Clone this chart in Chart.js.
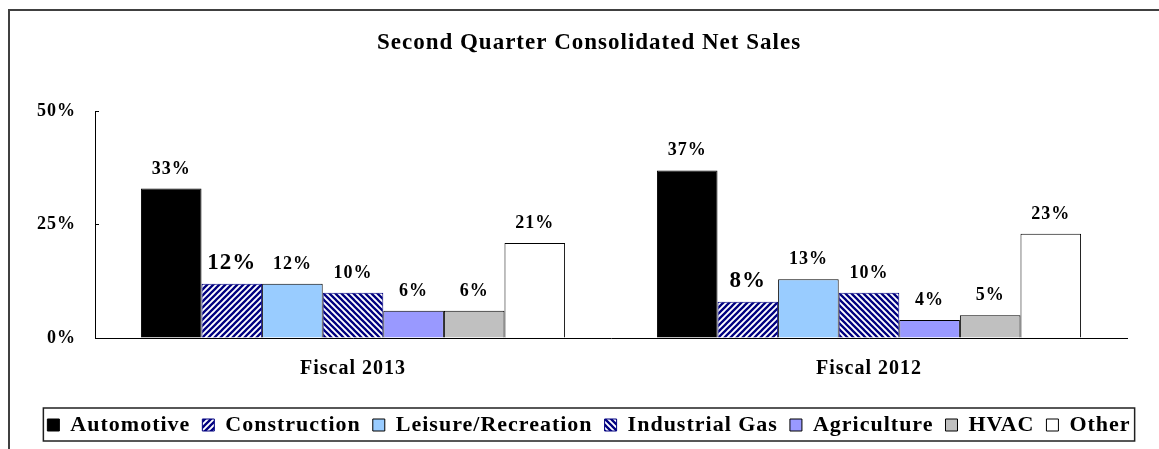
<!DOCTYPE html>
<html><head><meta charset="utf-8">
<script src="https://cdn.jsdelivr.net/npm/chart.js@4.4.1/dist/chart.umd.min.js"></script>
<style>html,body{margin:0;padding:0;background:#fff;overflow:hidden}canvas{display:block}</style>
</head><body>
<canvas id="c" width="1159" height="449"></canvas>
<script>
// ---- data ----
const categories = ['Fiscal 2013', 'Fiscal 2012'];
const seriesNames = ['Automotive', 'Construction', 'Leisure/Recreation', 'Industrial Gas', 'Agriculture', 'HVAC', 'Other'];
const automotive = [33, 37];
const construction = [12, 8];
const leisureRecreation = [12, 13];
const industrialGas = [10, 10];
const agriculture = [6, 4];
const hvac = [6, 5];
const other = [21, 23];
const yTickValues = [0, 25, 50];
const titleText = 'Second Quarter Consolidated Net Sales';

// ---- styles ----
const FONT = '"Liberation Serif", "Times New Roman", serif';
const canvas = document.getElementById('c');
const ctx0 = canvas.getContext('2d');

function hatch(dir) {
  const s = 6;
  const c = document.createElement('canvas'); c.width = s; c.height = s;
  const g = c.getContext('2d');
  g.fillStyle = '#ffffff'; g.fillRect(0, 0, s, s);
  g.strokeStyle = '#000080'; g.lineWidth = 2.3; g.beginPath();
  if (dir === '/') {
    g.moveTo(-1, s + 1); g.lineTo(s + 1, -1);
    g.moveTo(-1, 1); g.lineTo(1, -1);
    g.moveTo(s - 1, s + 1); g.lineTo(s + 1, s - 1);
  } else {
    g.moveTo(-1, -1); g.lineTo(s + 1, s + 1);
    g.moveTo(s - 1, -1); g.lineTo(s + 1, 1);
    g.moveTo(-1, s - 1); g.lineTo(1, s + 1);
  }
  g.stroke();
  return ctx0.createPattern(c, 'repeat');
}

const seriesValues = [automotive, construction, leisureRecreation, industrialGas, agriculture, hvac, other];
const fills = ['#000000', hatch('/'), '#99CCFF', hatch('\\'), '#9999FF', '#C0C0C0', '#FFFFFF'];
const borders = ['#000000', '#000080', '#000000', '#000080', '#000000', '#000000', '#000000'];
const labelFontSizes = [18, 23, 18, 18, 18, 18, 18];

const datasets = seriesNames.map((name, i) => ({
  label: name,
  data: seriesValues[i],
  backgroundColor: fills[i],
  borderColor: borders[i],
  borderWidth: 1,
  categoryPercentage: 0.822,
  barPercentage: 1.0
}));

const spacingPlugin = {
  id: 'spacing',
  beforeUpdate(chart) { chart.ctx.letterSpacing = '1px'; },
  beforeDraw(chart) { chart.ctx.letterSpacing = '1px'; }
};

const framePlugin = {
  id: 'frame',
  beforeDraw(chart) {
    const c = chart.ctx;
    c.save();
    c.fillStyle = '#fff'; c.fillRect(0, 0, chart.width, chart.height);
    c.strokeStyle = '#404040'; c.lineWidth = 2;
    c.beginPath();
    c.moveTo(9, chart.height + 2); c.lineTo(9, 10); c.lineTo(chart.width + 2, 10);
    c.stroke();
    c.restore();
  }
};

const legendBoxPlugin = {
  id: 'legendBox',
  afterDraw(chart) {
    const hb = chart.legend && chart.legend.legendHitBoxes;
    if (!hb || !hb.length) return;
    const c = chart.ctx;
    const last = hb[hb.length - 1];
    const x0 = hb[0].left - 4, x1 = last.left + last.width + 4;
    const yc = hb[0].top + hb[0].height / 2;
    c.save();
    c.strokeStyle = '#202020'; c.lineWidth = 1.5;
    c.strokeRect(x0, yc - 17, x1 - x0, 33);
    c.restore();
  }
};

const valueLabelPlugin = {
  id: 'valueLabels',
  afterDatasetsDraw(chart) {
    const c = chart.ctx;
    chart.data.datasets.forEach((ds, i) => {
      const meta = chart.getDatasetMeta(i);
      meta.data.forEach((bar, j) => {
        c.save();
        c.font = 'bold ' + labelFontSizes[i] + 'px ' + FONT;
        c.fillStyle = '#000';
        c.textAlign = 'center';
        c.textBaseline = 'alphabetic';
        c.fillText(ds.data[j] + '%', bar.x, bar.y - 15);
        c.restore();
      });
    });
  }
};

new Chart(ctx0, {
  type: 'bar',
  data: { labels: categories, datasets },
  plugins: [spacingPlugin, framePlugin, legendBoxPlugin, valueLabelPlugin],
  options: {
    responsive: false,
    animation: false,
    layout: { padding: { left: 19, right: 0, top: 0, bottom: 3 } },
    plugins: {
      tooltip: { enabled: false },
      title: {
        display: true, text: titleText, color: '#000',
        font: { family: FONT, size: 23, weight: 'bold', lineHeight: 1.2 },
        padding: { top: 29, bottom: 55 }
      },
      legend: {
        position: 'bottom',
        labels: {
          color: '#000', boxWidth: 12, boxHeight: 12, padding: 12,
          font: { family: FONT, size: 22, weight: 'bold' }
        }
      }
    },
    scales: {
      x: {
        grid: { display: false },
        border: { display: true, color: '#000', width: 1 },
        ticks: { color: '#000', padding: 11, font: { family: FONT, size: 20, weight: 'bold' } },
        afterFit(scale) { scale.height = 64; }
      },
      y: {
        min: 0, max: 50,
        afterBuildTicks(scale) { scale.ticks = yTickValues.map(v => ({ value: v })); },
        grid: { drawOnChartArea: false, color: '#000', tickLength: -4, tickWidth: 1 },
        border: { display: true, color: '#000', width: 1 },
        ticks: { color: '#000', padding: 23, callback: v => v + '%', font: { family: FONT, size: 18, weight: 'bold' } },
        afterFit(scale) { scale.width = 76; }
      },
      yRightSpacer: {
        type: 'linear', position: 'right', display: true,
        grid: { display: false }, border: { display: false },
        ticks: { display: false },
        afterFit(scale) { scale.width = 32; }
      }
    }
  }
});
</script>
</body></html>
